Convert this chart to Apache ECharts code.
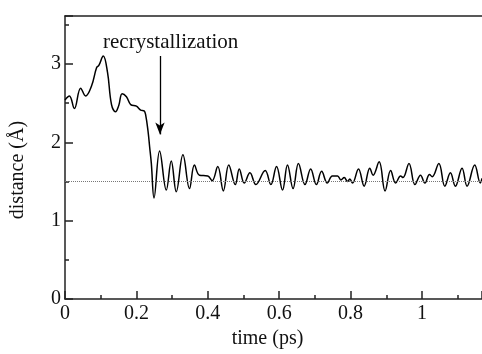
<!DOCTYPE html>
<html>
<head>
<meta charset="utf-8">
<script src="https://cdn.jsdelivr.net/npm/echarts@6/dist/echarts.min.js"></script>
<style>html,body{margin:0;padding:0;background:#fff}#c{width:482px;height:354px}</style>
</head>
<body>
<div id="c"></div>
<script>
var timePs = [0.0,0.0123,0.0262,0.0438,0.0577,0.0745,0.0884,0.0948,0.1071,0.1191,0.1303,0.1414,0.1506,0.1601,0.1721,0.1841,0.2000,0.2120,0.2215,0.2259,0.2326,0.2371,0.2418,0.2494,0.2650,0.2837,0.2976,0.3116,0.3303,0.3487,0.3626,0.3766,0.4000,0.4120,0.4279,0.4435,0.4586,0.4770,0.4881,0.5021,0.5180,0.5347,0.5607,0.5766,0.5925,0.6092,0.6232,0.6388,0.6538,0.6722,0.6881,0.7040,0.7188,0.7347,0.7487,0.7635,0.7727,0.7821,0.7914,0.7978,0.8053,0.8220,0.8379,0.8536,0.8630,0.8798,0.8965,0.9121,0.9261,0.9400,0.9467,0.9635,0.9802,0.9958,1.0081,1.0209,1.0285,1.0471,1.0639,1.0795,1.0934,1.1121,1.1261,1.1476,1.1632,1.1679];
var distance = [2.54,2.59,2.43,2.69,2.59,2.72,2.95,2.98,3.10,2.89,2.48,2.39,2.47,2.62,2.58,2.48,2.46,2.41,2.40,2.35,2.14,1.94,1.73,1.29,1.89,1.39,1.76,1.37,1.84,1.41,1.71,1.58,1.57,1.51,1.69,1.38,1.71,1.46,1.66,1.48,1.61,1.46,1.64,1.46,1.69,1.39,1.71,1.41,1.73,1.46,1.66,1.46,1.63,1.48,1.57,1.57,1.52,1.55,1.50,1.53,1.48,1.66,1.44,1.67,1.58,1.75,1.38,1.64,1.48,1.57,1.55,1.73,1.46,1.58,1.48,1.59,1.56,1.73,1.44,1.61,1.44,1.67,1.44,1.71,1.48,1.54];
var referenceLevel = 1.5;
var xTickLabels = ['0','0.2','0.4','0.6','0.8','1'];
var yTickLabels = ['0','1','2','3'];
var annotationText = 'recrystallization';
var annotationAt = [0.296, 3.27];
var arrowX = 0.266;
var arrowFromTo = [3.10, 2.10];

var FONT = '"Liberation Serif", "DejaVu Serif", serif';
var data = timePs.map(function (t, i) { return [t, distance[i]]; });

var chart = echarts.init(document.getElementById('c'), null, {renderer: 'canvas'});
chart.setOption({
  animation: false,
  backgroundColor: '#fff',
  grid: {left: 63, right: 0, top: 16, bottom: 49, containLabel: false},
  xAxis: [{
    type: 'value', min: 0, max: 1.168, interval: 0.2,
    axisLine: {show: true, onZero: false, lineStyle: {color: '#222', width: 1.5}},
    axisTick: {show: true, inside: true, length: 8, lineStyle: {color: '#222', width: 1.5}},
    minorTick: {show: true, splitNumber: 2, length: 4, lineStyle: {color: '#222', width: 1.5}},
    splitLine: {show: false},
    axisLabel: {showMaxLabel: false, margin: 5, color: '#111', fontFamily: FONT, fontSize: 20,
      formatter: function (v) { var s = String(Math.round(v * 10) / 10); return xTickLabels.indexOf(s) >= 0 ? s : ''; }},
    name: 'time (ps)', nameLocation: 'middle', nameGap: 28,
    nameTextStyle: {color: '#111', fontFamily: FONT, fontSize: 20, padding: [0, 12, 0, 0]}
  }, {
    type: 'value', position: 'top', min: 0, max: 1.168,
    axisLine: {show: true, onZero: false, lineStyle: {color: '#222', width: 1.5}},
    axisTick: {show: false}, axisLabel: {show: false}, splitLine: {show: false}
  }],
  yAxis: {
    type: 'value', min: 0, max: 3.61, interval: 1,
    axisLine: {show: true, onZero: false, lineStyle: {color: '#222', width: 1.5}},
    axisTick: {show: true, inside: true, length: 8, lineStyle: {color: '#222', width: 1.5}},
    minorTick: {show: true, splitNumber: 2, length: 4, lineStyle: {color: '#222', width: 1.5}},
    splitLine: {show: false},
    axisLabel: {showMaxLabel: false, margin: 4, color: '#111', fontFamily: FONT, fontSize: 20,
      formatter: function (v) { var s = String(Math.round(v)); return yTickLabels.indexOf(s) >= 0 ? s : ''; }},
    name: 'distance (Å)', nameLocation: 'middle', nameGap: 37,
    nameTextStyle: {color: '#111', fontFamily: FONT, fontSize: 20, padding: [0, 25, 0, 0]}
  },
  series: [{
    type: 'line', data: data, smooth: 0.4, showSymbol: false, symbol: 'none',
    lineStyle: {color: '#000', width: 1.5},
    markLine: {
      silent: true, animation: false,
      data: [
        [{coord: [0, referenceLevel], symbol: 'none'}, {coord: [1.168, referenceLevel], symbol: 'none'}],
        [{coord: [arrowX, arrowFromTo[0]], symbol: 'none', lineStyle: {color: '#000', type: 'solid', width: 1.3}},
         {coord: [arrowX, arrowFromTo[1]], symbol: 'arrow', symbolSize: [7, 12]}]
      ],
      lineStyle: {color: '#777', type: 'dotted', width: 1},
      label: {show: false}
    },
    markPoint: {
      silent: true, animation: false,
      data: [{coord: annotationAt, symbol: 'circle', symbolSize: 0,
        label: {show: true, position: 'inside', formatter: annotationText, color: '#111', fontFamily: FONT, fontSize: 21}}]
    }
  }]
});
</script>
</body>
</html>
